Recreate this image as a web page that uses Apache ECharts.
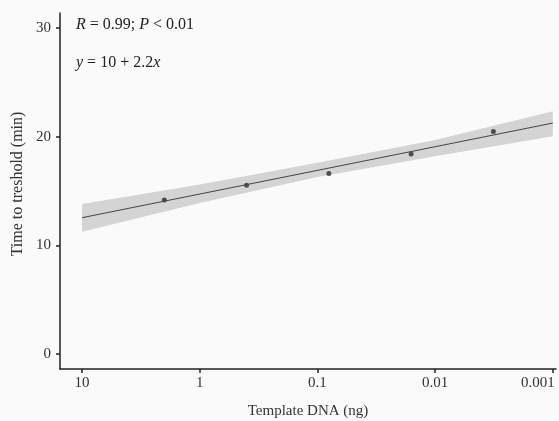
<!DOCTYPE html>
<html><head><meta charset="utf-8">
<script src="https://cdn.jsdelivr.net/npm/echarts@6/dist/echarts.min.js"></script>
<style>html,body{margin:0;padding:0;background:#fafafa}#c{width:559px;height:421px}</style>
</head><body><div id="c"></div>
<script>
// Data
const dnaNg = [2, 0.4, 0.08, 0.016, 0.0032];
const timeMin = [14.17, 15.52, 16.62, 18.40, 20.49];
const fitNg = [10, 0.001];
const fitTime = [12.54, 21.26];
const bandNg = [10, 1, 0.1, 0.01, 0.001];
const bandUpper = [13.8, 15.6, 17.6, 19.7, 22.35];
const bandLower = [11.25, 13.9, 16.3, 18.2, 20.05];
const xTickValues = [10, 1, 0.1, 0.01, 0.001];
const xTickLabels = ['10', '1', '0.1', '0.01', '0.001'];
const yTickValues = [0, 10, 20, 30];
const xTitle = 'Template DNA (ng)';
const yTitle = 'Time to treshold (min)';

const L = v => Math.log10(v);
const font = '"Liberation Serif", "DejaVu Serif", serif';
const chart = echarts.init(document.getElementById('c'));
const xTicksLog = xTickValues.map(L);
chart.setOption({
  backgroundColor: '#fafafa',
  animation: false,
  grid: {left: 60, right: 3, top: 13, bottom: 52, containLabel: false, outerBoundsMode: 'none'},
  xAxis: {
    type: 'value', inverse: true, min: L(0.00094), max: L(15.4),
    name: xTitle, nameLocation: 'middle', nameGap: 35,
    nameTextStyle: {fontFamily: font, fontSize: 15, color: '#333'},
    axisLine: {show: true, onZero: false, lineStyle: {color: '#222', width: 1.5}},
    axisTick: {show: true, length: 4, customValues: xTicksLog, lineStyle: {color: '#222', width: 1.5}},
    axisLabel: {customValues: xTicksLog, hideOverlap: false, showMinLabel: true, showMaxLabel: true,
      fontFamily: font, fontSize: 15, color: '#333', margin: 7,
      rich: {end: {fontFamily: font, fontSize: 15, color: '#333', padding: [0, 30, 0, 0]}},
      formatter: v => {
        const i = xTicksLog.findIndex(t => Math.abs(t - v) < 1e-6);
        if (i < 0) return '';
        return i === xTickLabels.length - 1 ? '{end|' + xTickLabels[i] + '}' : xTickLabels[i];
      }},
    splitLine: {show: false}
  },
  yAxis: {
    type: 'value', min: -1.4, max: 31.4,
    axisLine: {show: true, onZero: false, lineStyle: {color: '#222', width: 1.5}},
    axisTick: {show: true, length: 4, customValues: yTickValues, lineStyle: {color: '#222', width: 1.5}},
    axisLabel: {customValues: yTickValues, fontFamily: font, fontSize: 15, color: '#333', margin: 9},
    splitLine: {show: false}
  },
  series: [
    {type: 'custom', silent: true,
     data: bandNg.map((n, i) => [L(n), bandLower[i], bandUpper[i]]),
     encode: {x: 0, y: [1, 2]},
     renderItem: (params, api) => {
       if (params.dataIndex !== 0) return null;
       const up = bandNg.map((n, i) => api.coord([L(n), bandUpper[i]]));
       const lo = bandNg.map((n, i) => api.coord([L(n), bandLower[i]])).reverse();
       return {type: 'polygon', shape: {points: up.concat(lo)}, style: {fill: '#d4d4d4'}};
     }},
    {type: 'line', symbol: 'none', lineStyle: {color: '#444', width: 1},
     data: fitNg.map((n, i) => [L(n), fitTime[i]])},
    {type: 'scatter', symbolSize: 5, itemStyle: {color: '#2a2a2a'},
     data: dnaNg.map((n, i) => [L(n), timeMin[i]])}
  ],
  graphic: [
    {type: 'text', x: 18, y: 184, rotation: Math.PI / 2, style: {
      text: yTitle, fontFamily: font, fontSize: 16, fill: '#333', align: 'center', verticalAlign: 'middle'}},
    {type: 'text', left: 76, top: 17, style: {
      text: '{i|R} = 0.99; {i|P} < 0.01', fontFamily: font, fontSize: 16, fill: '#222',
      rich: {i: {fontStyle: 'italic', fontFamily: font, fontSize: 16, fill: '#222'}}}},
    {type: 'text', left: 76, top: 55, style: {
      text: '{i|y} = 10 + 2.2{i|x}', fontFamily: font, fontSize: 16, fill: '#222',
      rich: {i: {fontStyle: 'italic', fontFamily: font, fontSize: 16, fill: '#222'}}}}
  ]
});
</script></body></html>
